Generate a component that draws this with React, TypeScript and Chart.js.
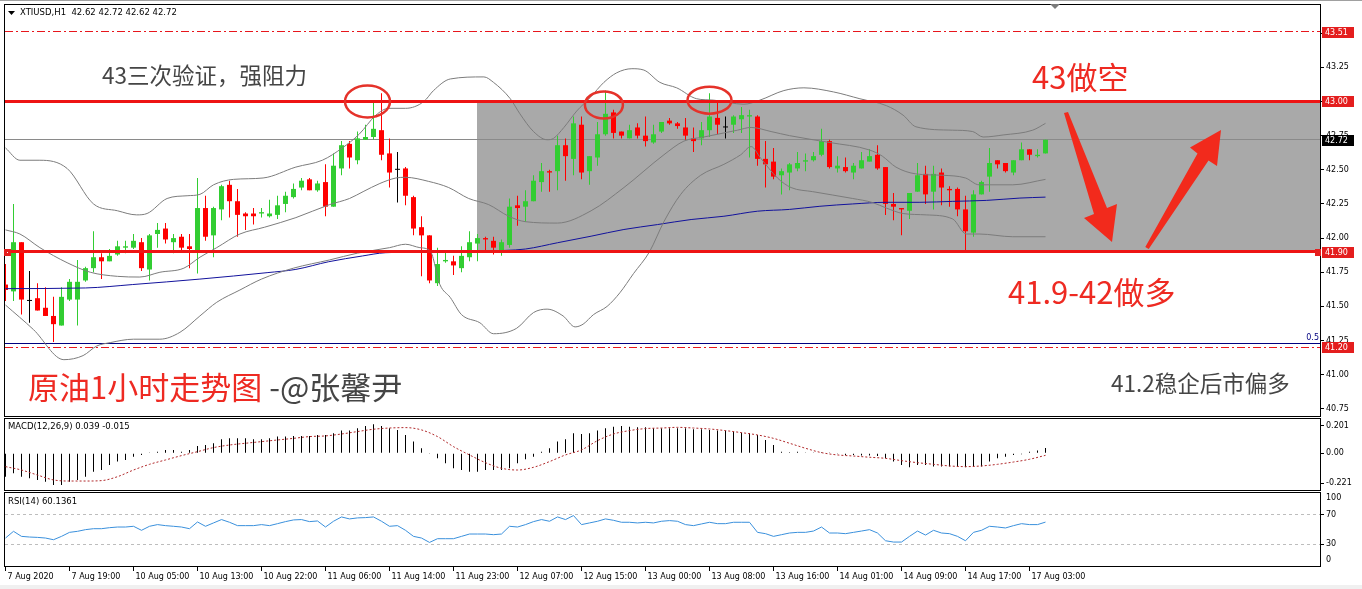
import React, { useEffect, useRef } from "react";
import { Chart, registerables } from "chart.js";

Chart.register(...registerables);

// ---------------- data ----------------
const symbolName = "XTIUSD,H1";

const opens = [41.66,41.61,41.97,41.54,41.56,41.49,41.43,41.36,41.55,41.55,
41.69,41.78,41.86,41.83,41.88,41.93,41.93,41.97,41.77,42.03,
42.07,41.97,42.01,41.94,41.91,42.22,42.02,42.21,42.39,42.27,
42.18,42.18,42.18,42.16,42.17,42.25,42.30,42.37,42.43,42.35,
42.41,42.23,42.51,42.69,42.57,42.72,42.74,42.79,42.62,42.50,
42.51,42.30,42.08,42.02,41.67,41.83,41.83,41.78,41.86,41.96,
42.00,41.98,41.91,41.95,42.24,42.23,42.27,42.41,42.49,42.49,
42.68,42.58,42.83,42.49,42.59,42.76,42.92,42.78,42.73,42.81,
42.75,42.70,42.78,42.86,42.84,42.81,42.73,42.73,42.79,42.88,
42.81,42.83,42.87,42.89,42.89,42.58,42.56,42.46,42.48,42.51,
42.56,42.57,42.61,42.71,42.51,42.52,42.48,42.51,42.56,42.61,
42.52,42.25,42.22,42.20,42.34,42.47,42.34,42.48,42.36,42.36,
42.21,42.04,42.32,42.45,42.57,42.55,42.48,42.57,42.65,42.60,
42.62];
const highs = [41.81,42.25,41.97,41.76,41.67,41.64,41.57,41.64,41.70,41.84,
41.79,42.05,41.89,41.92,41.98,41.98,42.03,42.00,42.03,42.11,
42.11,42.03,42.03,42.03,42.44,42.31,42.23,42.39,42.42,42.36,
42.19,42.22,42.22,42.28,42.31,42.34,42.40,42.44,42.44,42.42,
42.54,42.62,42.71,42.71,42.78,42.83,43.00,43.06,42.73,42.63,
42.52,42.31,42.16,42.02,41.93,41.91,41.87,41.94,42.05,42.03,
42.01,42.01,41.99,42.29,42.31,42.35,42.46,42.55,42.50,42.75,
42.73,42.89,42.89,42.60,42.85,43.08,42.94,42.78,42.83,42.84,
42.89,42.83,42.85,42.88,42.85,42.88,42.81,42.85,43.06,43.01,
42.89,42.90,42.96,42.94,42.90,42.71,42.66,42.51,42.55,42.63,
42.62,42.63,42.80,42.72,42.60,42.59,42.55,42.63,42.65,42.68,
42.52,42.33,42.22,42.33,42.55,42.53,42.53,42.51,42.38,42.37,
42.31,42.35,42.42,42.66,42.57,42.55,42.57,42.70,42.65,42.65,
42.72];
const lows = [41.54,41.54,41.44,41.38,41.47,41.43,41.24,41.36,41.54,41.36,
41.68,41.75,41.70,41.83,41.87,41.89,41.92,41.76,41.69,41.93,
41.96,41.89,41.91,41.78,41.74,41.98,41.86,42.13,42.15,42.01,
42.06,42.10,42.15,42.15,42.14,42.19,42.29,42.35,42.35,42.34,
42.16,42.23,42.46,42.51,42.54,42.72,42.72,42.57,42.37,42.26,
42.24,42.02,41.72,41.67,41.65,41.82,41.73,41.75,41.83,41.83,
41.91,41.88,41.87,41.93,42.09,42.12,42.27,42.34,42.34,42.35,
42.42,42.46,42.43,42.39,42.53,42.75,42.73,42.73,42.73,42.73,
42.67,42.69,42.77,42.83,42.80,42.72,42.63,42.68,42.74,42.76,
42.73,42.77,42.77,42.59,42.53,42.37,42.43,42.32,42.35,42.49,
42.49,42.56,42.60,42.51,42.48,42.48,42.43,42.51,42.56,42.50,
42.17,42.13,42.02,42.14,42.34,42.25,42.21,42.24,42.23,42.16,
41.90,42.01,42.32,42.34,42.51,42.48,42.46,42.57,42.57,42.59,
42.62];
const closes = [41.62,41.97,41.55,41.54,41.47,41.43,41.37,41.57,41.68,41.68,
41.78,41.86,41.83,41.87,41.94,41.94,41.98,41.78,42.02,42.06,
41.99,42.00,41.93,41.92,42.22,42.01,42.22,42.38,42.27,42.17,
42.16,42.16,42.19,42.18,42.24,42.31,42.36,42.42,42.35,42.40,
42.23,42.53,42.68,42.59,42.73,42.74,42.80,42.61,42.48,42.50,
42.31,42.07,42.02,41.69,41.81,41.84,41.80,41.87,41.97,42.00,
41.99,41.93,41.97,42.23,42.22,42.27,42.42,42.49,42.48,42.68,
42.60,42.84,42.48,42.60,42.76,42.91,42.77,42.75,42.79,42.75,
42.71,42.76,42.85,42.84,42.82,42.75,42.71,42.79,42.89,42.83,
42.81,42.89,42.90,42.90,42.58,42.54,42.45,42.49,42.54,42.55,
42.57,42.60,42.71,42.52,42.53,42.49,42.53,42.57,42.60,42.51,
42.25,42.23,42.21,42.33,42.46,42.32,42.47,42.37,42.35,42.21,
42.05,42.32,42.41,42.55,42.54,42.49,42.57,42.65,42.61,42.61,
42.72];

// Bollinger bands (at the given bar positions)
const upperBandBars = [0,1.8,4.3,7.7,11,14,16.4,17.7,20.2,22.7,24.3,26,28.5,32.2,36.3,39.6,42.1,44.2,46.3,47.9,50,52.3,53.5,55.6,59.8,61,63.1,64.3,66,67.7,68.5,69.8,71.4,73.1,74.8,76.4,78.3,79.8,81.8,83.9,86.4,88.5,92.3,94.3,97.3,99.8,103.5,106.8,110.1,112.2,113.8,118.4,120.9,122.2,124.7,128.4,130];
const upperBand = [42.66,42.57,42.57,42.51,42.25,42.20,42.17,42.18,42.29,42.31,42.32,42.39,42.43,42.44,42.52,42.57,42.66,42.76,42.90,42.95,42.95,43.00,43.08,43.165,43.18,43.14,43.02,42.91,42.78,42.72,42.73,42.81,42.93,43.03,43.14,43.21,43.24,43.23,43.14,43.10,43.02,43.01,42.98,43.01,43.08,43.10,43.07,43.02,42.97,42.90,42.815,42.79,42.78,42.74,42.755,42.79,42.84];
const midBandBars = [0,1.8,4.3,7.7,10.6,14,16.8,19.3,22.3,24.3,26.4,29.3,32.4,36.3,40.5,43,44.7,46.8,48.8,50,52.9,55.4,57.9,60.4,62.9,65,69,73.2,77.3,82.3,84.8,87.3,91.5,93.2,95.7,98,103,108,109.6,111.3,113.8,117.1,120,121.7,125.9,130];
const midBand = [42.06,42.03,41.93,41.82,41.75,41.72,41.715,41.75,41.78,41.86,41.93,42.03,42.08,42.15,42.245,42.29,42.34,42.40,42.44,42.445,42.415,42.37,42.29,42.245,42.16,42.12,42.11,42.20,42.37,42.61,42.71,42.74,42.79,42.81,42.78,42.75,42.70,42.645,42.60,42.52,42.47,42.46,42.44,42.39,42.39,42.43];
const lowerBandBars = [0,3.5,7.3,9.7,11.4,13.1,16,19.3,21.8,24.3,26.4,29.3,32,36,40.5,44,48,50,51.8,53.1,54.3,55.6,57,59.3,61,63.9,66,67.7,69.7,71.2,72.2,73.5,75.2,76.8,78.5,80.5,82.3,84.4,86.9,89.8,91.9,93.2,94.4,96.5,98.2,100.9,105.9,108.4,110.1,112.2,115.1,118.4,120.1,121.7,125.9,130];
const lowerBand = [41.51,41.33,41.11,41.14,41.21,41.235,41.26,41.26,41.31,41.43,41.53,41.62,41.70,41.78,41.84,41.89,41.93,41.955,41.93,41.905,41.66,41.565,41.44,41.38,41.30,41.34,41.455,41.48,41.43,41.35,41.37,41.44,41.50,41.60,41.74,41.90,42.12,42.32,42.46,42.54,42.61,42.67,42.585,42.44,42.37,42.34,42.29,42.26,42.22,42.18,42.17,42.14,42.03,42.03,42.01,42.01];
// moving average (blue)
const maBars = [0,10,15.9,24.3,32.7,36.3,40.4,44.6,47.5,55,62.5,65,69,73.2,77.3,81.5,85.7,89.8,94,98,101.8,105.9,110.1,114.3,118.4,122.6,126.8,130];
const maValues = [41.63,41.635,41.66,41.70,41.747,41.771,41.827,41.869,41.893,41.90,41.91,41.92,41.966,42.014,42.063,42.099,42.136,42.16,42.197,42.21,42.233,42.25,42.262,42.262,42.269,42.276,42.293,42.30];

// MACD(12,26,9)
const macdHist = [-0.172,-0.147,-0.172,-0.184,-0.196,-0.209,-0.233,-0.233,-0.209,-0.196,
-0.172,-0.135,-0.123,-0.086,-0.061,-0.049,-0.025,-0.012,0.005,0.012,
0.025,0.025,0.012,0.025,0.054,0.061,0.074,0.103,0.110,0.110,
0.110,0.103,0.103,0.110,0.123,0.123,0.128,0.128,0.128,0.135,
0.135,0.147,0.167,0.167,0.184,0.201,0.213,0.201,0.184,0.172,
0.135,0.086,0.037,-0.005,-0.037,-0.074,-0.110,-0.123,-0.135,-0.135,
-0.123,-0.123,-0.123,-0.110,-0.074,-0.044,-0.025,0.012,0.037,0.086,
0.103,0.147,0.142,0.147,0.167,0.184,0.196,0.201,0.196,0.191,
0.191,0.184,0.184,0.184,0.184,0.184,0.177,0.177,0.172,0.167,
0.167,0.160,0.152,0.147,0.135,0.098,0.061,0.012,0.007,0.012,
0.005,0.005,0.007,0.005,-0.005,-0.012,-0.012,-0.017,-0.017,-0.020,
-0.037,-0.061,-0.086,-0.103,-0.086,-0.086,-0.098,-0.098,-0.098,-0.098,
-0.103,-0.098,-0.098,-0.061,-0.037,-0.025,-0.012,-0.007,0.012,0.020,
0.039];
const signalBars = [0,2,4,6,8,10,12,14,16,18,20,22,24,26,28,30,32,34,36,38,40,42,44,46,48,50,52,54,56,58,60,62,64,66,68,70,72,74,76,78,80,82,84,86,88,90,92,94,96,98,100,102,104,106,108,110,112,114,116,118,120,122,124,126,128,130];
const signalValues = [-0.098,-0.123,-0.160,-0.196,-0.204,-0.204,-0.201,-0.172,-0.123,-0.081,-0.049,-0.017,0.012,0.042,0.061,0.074,0.086,0.098,0.110,0.123,0.128,0.142,0.160,0.177,0.186,0.189,0.172,0.123,0.049,-0.012,-0.069,-0.110,-0.123,-0.103,-0.061,-0.012,0.025,0.093,0.142,0.167,0.182,0.186,0.191,0.186,0.179,0.167,0.152,0.135,0.110,0.074,0.037,0.005,-0.012,-0.020,-0.029,-0.037,-0.054,-0.069,-0.081,-0.093,-0.098,-0.093,-0.081,-0.064,-0.044,-0.015];
const macdTicks = [0.201, 0, -0.221];
const macdTickLabels = ["0.201", "0.00", "-0.221"];

// RSI(14)
const rsiValues = [38.3,47.5,40.6,39.7,39.2,38.3,36.0,40.6,46.1,47.5,
49.8,51.1,51.1,52.5,53.4,53.4,54.4,48.9,54.4,56.7,
55.3,54.4,53.4,51.1,60.3,54.4,59.0,63.6,59.9,55.3,
55.3,55.3,56.7,55.3,58.0,60.8,63.1,63.6,60.8,61.7,
53.4,61.3,67.2,64.5,65.9,66.3,67.2,61.3,54.4,55.3,
48.9,40.6,38.3,32.3,37.4,37.4,37.4,40.6,43.8,43.8,
43.8,42.9,43.8,54.4,53.4,56.7,60.8,63.6,61.3,67.2,
63.6,69.1,56.7,59.0,61.3,64.5,62.6,59.9,59.9,59.0,
59.9,59.0,61.3,62.2,61.3,56.7,55.3,57.6,59.9,58.0,
58.0,59.9,59.9,59.9,46.1,44.3,40.6,42.9,45.2,46.1,
46.1,47.9,53.4,45.2,45.2,44.3,46.1,47.9,49.8,45.2,
34.6,32.8,32.8,40.6,47.9,42.4,48.9,45.2,44.3,40.6,
34.6,46.1,48.9,54.4,53.4,52.1,55.3,58.0,56.7,56.7,
60.1361];
const rsiLevels = [70, 30];
const rsiAxisTicks = [70, 30];
const rsiEdgeLabels = [100, 0];

// axes
const priceTicks = [40.75,41.00,41.25,41.50,41.75,42.00,42.25,42.50,42.75,43.00,43.25,43.50];
const timeTickBars = [0,8,16,24,32,40,48,56,64,72,80,88,96,104,112,120,128];
const timeLabels = ["7 Aug 2020","7 Aug 19:00","10 Aug 05:00","10 Aug 13:00","10 Aug 22:00","11 Aug 06:00","11 Aug 14:00","11 Aug 23:00","12 Aug 07:00","12 Aug 15:00","13 Aug 00:00","13 Aug 08:00","13 Aug 16:00","14 Aug 01:00","14 Aug 09:00","14 Aug 17:00","17 Aug 03:00"];

// drawn objects (levels)
const resistanceLevel = 43.0;
const supportLevel = 41.9;
const upperDashLevel = 43.51;
const lowerDashLevel = 41.2;
const bidLevel = 42.72;
const fibHalfLevel = 41.23;
const rangeStartBar = 58.9;

// ---------------- layout / styles ----------------
const X_MIN = -0.0625;
const X_MAX = 164.4375;
const PRICE_MIN = 40.6977;
const PRICE_MAX = 43.7064;
const MACD_MIN = -0.27;
const MACD_MAX = 0.2524;
const AXIS_W = 41;

const FONT = "'DejaVu Sans', sans-serif";
const CJK = "'Noto Sans CJK SC', 'Noto Sans', sans-serif";
const BULL = "#32CD32";
const BEAR = "#FF0000";
const DOJI = "#000000";
const BAND = "#7c7c7c";
const MA_COLOR = "#12129c";
const RED_LINE = "#EE1414";
const DASH_RED = "#E8161C";
const TAG_RED = "#E41E1E";
const TEXT_RED = "#EE2A22";
const TEXT_GREY = "#454545";
const ARROW_RED = "#F22A1C";

function hLine(ctx: any, a: any, py: number, color: string, w: number, dash: number[]) {
  const yy = w % 2 === 1 ? Math.round(py - 0.5) + 0.5 : Math.round(py);
  ctx.save();
  ctx.beginPath();
  ctx.setLineDash(dash);
  ctx.strokeStyle = color;
  ctx.lineWidth = w;
  ctx.moveTo(a.left, yy);
  ctx.lineTo(a.right, yy);
  ctx.stroke();
  ctx.restore();
}

function poly(ctx: any, pts: number[][], color: string) {
  ctx.beginPath();
  ctx.moveTo(pts[0][0], pts[0][1]);
  for (let i = 1; i < pts.length; i++) ctx.lineTo(pts[i][0], pts[i][1]);
  ctx.closePath();
  ctx.fillStyle = color;
  ctx.fill();
}

const mainOverlay = {
  id: "mainOverlay",
  beforeDatasetsDraw(chart: any) {
    const { ctx, chartArea: a } = chart;
    const xs = chart.scales.x, ys = chart.scales.y;
    ctx.save();
    const rx = Math.round(xs.getPixelForValue(rangeStartBar));
    const top = ys.getPixelForValue(resistanceLevel);
    const bot = ys.getPixelForValue(supportLevel);
    ctx.fillStyle = "#A9A9A9";
    ctx.fillRect(rx, top, a.right - rx, bot - top);
    ctx.restore();
    hLine(ctx, a, ys.getPixelForValue(bidLevel), "#8a8a8a", 1, []);
    hLine(ctx, a, ys.getPixelForValue(fibHalfLevel), "#000080", 1, []);
  },
  afterDatasetsDraw(chart: any) {
    const { ctx, chartArea: a } = chart;
    const xs = chart.scales.x, ys = chart.scales.y;
    hLine(ctx, a, ys.getPixelForValue(resistanceLevel), RED_LINE, 3, []);
    hLine(ctx, a, ys.getPixelForValue(supportLevel), RED_LINE, 3, []);
    hLine(ctx, a, ys.getPixelForValue(upperDashLevel), DASH_RED, 1, [8, 3, 2, 3]);
    hLine(ctx, a, ys.getPixelForValue(lowerDashLevel), DASH_RED, 1, [8, 3, 2, 3]);

    ctx.save();
    // ellipses around the three tests of 43
    const ellipses = [
      { bar: 45.25, price: 43.0, rx: 22.5, ry: 16 },
      { bar: 74.8, price: 42.975, rx: 19, ry: 13.5 },
      { bar: 88.0, price: 43.01, rx: 22, ry: 13.5 },
    ];
    ctx.strokeStyle = "#E5322A";
    ctx.lineWidth = 2.5;
    for (const e of ellipses) {
      ctx.beginPath();
      ctx.ellipse(xs.getPixelForValue(e.bar), ys.getPixelForValue(e.price), e.rx, e.ry, 0, 0, Math.PI * 2);
      ctx.stroke();
    }
    // arrows
    poly(ctx, [[1064, 113], [1068, 112], [1107, 208], [1117, 204], [1112, 242], [1084, 218], [1094, 214]], ARROW_RED);
    poly(ctx, [[1145.3, 247], [1148.7, 249], [1208.5, 160.4], [1217, 166], [1221, 130], [1190, 147.5], [1197.5, 153.6]], ARROW_RED);

    // annotation texts
    ctx.textBaseline = "middle";
    ctx.textAlign = "left";
    ctx.font = `22.5px ${CJK}`;
    ctx.fillStyle = TEXT_GREY;
    ctx.fillText("43三次验证，强阻力", 102, 75);
    ctx.fillText("41.2稳企后市偏多", 1111, 383);
    ctx.font = `31px ${CJK}`;
    ctx.fillStyle = TEXT_RED;
    ctx.fillText("43做空", 1032, 77);
    ctx.fillText("41.9-42做多", 1008, 292);
    const t1 = "原油1小时走势图";
    ctx.fillText(t1, 28, 387);
    const w1 = ctx.measureText(t1).width;
    ctx.fillStyle = TEXT_GREY;
    ctx.fillText(" -@张馨尹", 28 + w1, 387);

    // fib label
    ctx.font = `8px ${FONT}`;
    ctx.fillStyle = "#000080";
    ctx.textAlign = "right";
    ctx.textBaseline = "alphabetic";
    ctx.fillText("0.5", a.right - 2, Math.round(ys.getPixelForValue(fibHalfLevel)) - 3);
    ctx.restore();
  },
  afterDraw(chart: any) {
    const { ctx, chartArea: a } = chart;
    const ys = chart.scales.y;
    ctx.save();
    // panel border
    ctx.strokeStyle = "#000";
    ctx.lineWidth = 1;
    ctx.strokeRect(a.left - 0.5, a.top - 0.5, a.right - a.left, a.bottom - a.top + 1);

    // price tags on the axis
    const tags = [
      { price: upperDashLevel, bg: TAG_RED },
      { price: resistanceLevel, bg: TAG_RED },
      { price: bidLevel, bg: "#000" },
      { price: supportLevel, bg: TAG_RED },
      { price: lowerDashLevel, bg: TAG_RED },
    ];
    ctx.font = `8px ${FONT}`;
    ctx.textBaseline = "middle";
    ctx.textAlign = "left";
    for (const t of tags) {
      const py = Math.round(ys.getPixelForValue(t.price));
      ctx.fillStyle = t.bg;
      ctx.fillRect(a.right + 1, py - 5, 32, 11);
      ctx.fillStyle = "#fff";
      ctx.fillText(t.price.toFixed(2), a.right + 4, py + 0.5);
    }
    // handles of the selected support line
    const sy = Math.round(ys.getPixelForValue(supportLevel));
    ctx.fillStyle = TAG_RED;
    ctx.fillRect(a.left - 1, sy - 3, 7, 7);
    ctx.fillRect(a.right - 6, sy - 3, 6, 7);
    ctx.fillStyle = "#fff";
    ctx.fillRect(a.left + 2, sy, 1, 1);

    // header
    poly(ctx, [[8, 11], [15, 11], [11.5, 15]], "#000");
    ctx.fillStyle = "#000";
    ctx.font = `8.5px ${FONT}`;
    ctx.textBaseline = "middle";
    const n = closes.length - 1;
    ctx.fillText(`${symbolName}  ${opens[n].toFixed(2)} ${highs[n].toFixed(2)} ${lows[n].toFixed(2)} ${closes[n].toFixed(2)}`, 20, 13);
    // shift marker
    poly(ctx, [[1050, 4], [1060, 4], [1055, 9]], "#7a7a7a");
    ctx.restore();
  },
};

const macdOverlay = {
  id: "macdOverlay",
  afterDraw(chart: any) {
    const { ctx, chartArea: a } = chart;
    ctx.save();
    ctx.strokeStyle = "#000";
    ctx.lineWidth = 1;
    ctx.strokeRect(a.left - 0.5, a.top - 0.5, a.right - a.left, a.bottom - a.top + 1);
    ctx.fillStyle = "#000";
    ctx.font = `8.5px ${FONT}`;
    ctx.textBaseline = "middle";
    const n = macdHist.length - 1;
    ctx.fillText(`MACD(12,26,9) ${macdHist[n].toFixed(3)} ${signalValues[signalValues.length - 1].toFixed(3)}`, 8, 10);
    ctx.restore();
  },
};

const rsiOverlay = {
  id: "rsiOverlay",
  beforeDatasetsDraw(chart: any) {
    const { ctx, chartArea: a } = chart;
    const ys = chart.scales.y;
    for (const lv of rsiLevels) hLine(ctx, a, ys.getPixelForValue(lv), "#BDBDBD", 1, [3, 3]);
  },
  afterDraw(chart: any) {
    const { ctx, chartArea: a } = chart;
    const ys = chart.scales.y;
    ctx.save();
    ctx.strokeStyle = "#000";
    ctx.lineWidth = 1;
    ctx.strokeRect(a.left - 0.5, a.top - 0.5, a.right - a.left, a.bottom - a.top + 1);
    ctx.fillStyle = "#000";
    ctx.font = `8.5px ${FONT}`;
    ctx.textBaseline = "middle";
    ctx.fillText(`RSI(14) ${rsiValues[rsiValues.length - 1].toFixed(4)}`, 8, 10);
    ctx.font = `8px ${FONT}`;
    const yTop = ys.getPixelForValue(rsiEdgeLabels[0]);
    const yBot = ys.getPixelForValue(rsiEdgeLabels[1]);
    ctx.fillText(String(rsiEdgeLabels[0]), a.right + 5, yTop + 5);
    ctx.fillText(String(rsiEdgeLabels[1]), a.right + 5, yBot - 6);
    ctx.restore();
  },
};

const baseOpts = {
  animation: false,
  responsive: false,
  devicePixelRatio: 1,
  events: [],
  plugins: { legend: { display: false }, tooltip: { enabled: false } },
};

const hiddenX = { type: "linear", min: X_MIN, max: X_MAX, offset: false, display: false };

function rightAxis(extra: any) {
  return {
    type: "linear",
    position: "right",
    afterFit: (s: any) => {
      s.width = AXIS_W;
      s.paddingTop = 0;
      s.paddingBottom = 0;
    },
    grid: { drawOnChartArea: false, drawTicks: true, tickLength: 3, color: "#000" },
    border: { display: false },
    ...extra,
  };
}

function lineDs(xs: number[], ys: number[], color: string, order: number) {
  return {
    type: "line",
    data: xs.map((x, i) => ({ x, y: ys[i] })),
    borderColor: color,
    borderWidth: 1,
    pointRadius: 0,
    fill: false,
    tension: 0,
    cubicInterpolationMode: "monotone",
    order,
  };
}

function mainConfig(): any {
  const idx = opens.map((_, i) => i);
  const colors = idx.map((i) => (closes[i] > opens[i] ? BULL : closes[i] < opens[i] ? BEAR : DOJI));
  return {
    type: "bar",
    data: {
      datasets: [
        lineDs(upperBandBars, upperBand, BAND, 1),
        lineDs(midBandBars, midBand, BAND, 1),
        lineDs(lowerBandBars, lowerBand, BAND, 1),
        lineDs(maBars, maValues, MA_COLOR, 1),
        {
          type: "bar",
          data: idx.map((i) => ({ x: i, y: [opens[i], closes[i]] })),
          backgroundColor: colors,
          grouped: false,
          categoryPercentage: 1,
          barPercentage: 0.625,
          minBarLength: 1,
          inflateAmount: 0,
          order: 2,
        },
        {
          type: "bar",
          data: idx.map((i) => ({ x: i, y: [lows[i], highs[i]] })),
          backgroundColor: colors,
          grouped: false,
          categoryPercentage: 1,
          barPercentage: 0.125,
          inflateAmount: 0,
          order: 3,
        },
      ],
    },
    options: {
      ...baseOpts,
      layout: { padding: { left: 5, top: 5, right: 0, bottom: 1 } },
      scales: {
        x: hiddenX,
        y: rightAxis({
          min: PRICE_MIN,
          max: PRICE_MAX,
          afterBuildTicks: (s: any) => { s.ticks = priceTicks.map((v) => ({ value: v })); },
          ticks: { font: { family: FONT, size: 8 }, color: "#000", padding: 2, autoSkip: false, callback: (v: any) => Number(v).toFixed(2) },
        }),
      },
    },
    plugins: [mainOverlay],
  };
}

function macdConfig(): any {
  return {
    type: "bar",
    data: {
      datasets: [
        {
          type: "line",
          data: signalBars.map((x, i) => ({ x, y: signalValues[i] })),
          borderColor: "#B0282A",
          borderWidth: 1,
          borderDash: [2, 2],
          pointRadius: 0,
          tension: 0,
          cubicInterpolationMode: "monotone",
          order: 1,
        },
        {
          type: "bar",
          data: macdHist.map((v, i) => ({ x: i, y: v })),
          backgroundColor: "#000",
          barThickness: 1,
          inflateAmount: 0,
          order: 2,
        },
      ],
    },
    options: {
      ...baseOpts,
      layout: { padding: { left: 5, top: 2, right: 0, bottom: 2 } },
      scales: {
        x: hiddenX,
        y: rightAxis({
          min: MACD_MIN,
          max: MACD_MAX,
          afterBuildTicks: (s: any) => { s.ticks = macdTicks.map((v) => ({ value: v })); },
          ticks: { font: { family: FONT, size: 8 }, color: "#000", padding: 2, autoSkip: false, callback: (v: any) => macdTickLabels[macdTicks.indexOf(v)] ?? "" },
        }),
      },
    },
    plugins: [macdOverlay],
  };
}

function rsiConfig(): any {
  return {
    type: "line",
    data: {
      datasets: [
        {
          data: rsiValues.map((v, i) => ({ x: i, y: v })),
          borderColor: "#3a90dc",
          borderWidth: 1,
          pointRadius: 0,
          tension: 0,
        },
      ],
    },
    options: {
      ...baseOpts,
      layout: { padding: { left: 5, top: 1, right: 0, bottom: 1 } },
      scales: {
        x: {
          type: "linear",
          min: X_MIN,
          max: X_MAX,
          offset: false,
          position: "bottom",
          afterFit: (s: any) => {
            s.height = 22;
            s.paddingLeft = 0;
            s.paddingRight = 0;
          },
          afterBuildTicks: (s: any) => { s.ticks = timeTickBars.map((v) => ({ value: v })); },
          grid: { drawOnChartArea: false, drawTicks: true, tickLength: 5, color: "#000" },
          border: { display: false },
          ticks: {
            autoSkip: false,
            maxRotation: 0,
            minRotation: 0,
            align: "start",
            labelOffset: 2,
            padding: 1,
            font: { family: FONT, size: 8 },
            color: "#000",
            callback: (v: any) => timeLabels[timeTickBars.indexOf(v)] ?? "",
          },
        },
        y: rightAxis({
          min: 0,
          max: 100,
          afterBuildTicks: (s: any) => { s.ticks = rsiAxisTicks.map((v) => ({ value: v })); },
          ticks: { font: { family: FONT, size: 8 }, color: "#000", padding: 2, autoSkip: false, callback: (v: any) => String(v) },
        }),
      },
    },
    plugins: [rsiOverlay],
  };
}

export default function App() {
  const mainRef = useRef<HTMLCanvasElement>(null);
  const macdRef = useRef<HTMLCanvasElement>(null);
  const rsiRef = useRef<HTMLCanvasElement>(null);

  useEffect(() => {
    const charts = [
      new Chart(mainRef.current as HTMLCanvasElement, mainConfig()),
      new Chart(macdRef.current as HTMLCanvasElement, macdConfig()),
      new Chart(rsiRef.current as HTMLCanvasElement, rsiConfig()),
    ];
    return () => charts.forEach((c) => c.destroy());
  }, []);

  return (
    <div style={{ position: "fixed", left: 0, top: 0, width: 1362, height: 589, background: "#fff", overflow: "hidden" }}>
      <div style={{ position: "absolute", left: 0, top: 0, width: 1362, height: 1, background: "#a0a0a0" }} />
      <canvas ref={mainRef} width={1362} height={417} style={{ position: "absolute", left: 0, top: 0, width: 1362, height: 417 }} />
      <canvas ref={macdRef} width={1362} height={75} style={{ position: "absolute", left: 0, top: 417, width: 1362, height: 75 }} />
      <canvas ref={rsiRef} width={1362} height={97} style={{ position: "absolute", left: 0, top: 492, width: 1362, height: 97 }} />
      <div style={{ position: "absolute", left: 0, top: 585, width: 1362, height: 4, background: "#f0f0f0" }} />
    </div>
  );
}
